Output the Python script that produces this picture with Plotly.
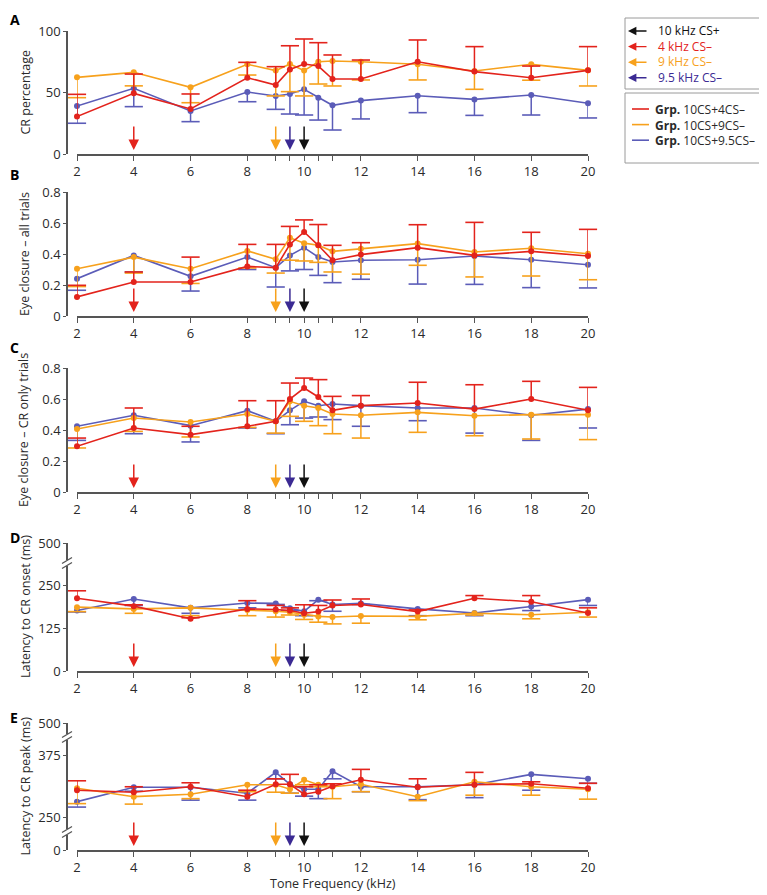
import plotly.graph_objects as go

# page has an 8px body margin: figure drawn at (8, 8) inside the 767x895 window
OFF = 8
W, H = 767 - OFF, 895 - OFF

# ---------------- data ----------------
freqs = [2, 4, 6, 8, 9, 9.5, 10, 10.5, 11, 12, 14, 16, 18, 20]
tick_text = ['2', '4', '6', '8', '', '', '10', '', '', '12', '14', '16', '18', '20']

# Panel A: CR percentage
a_red = [30.4, 49.3, 36.6, 62, 56.1, 68.8, 73.2, 71.5, 61, 61, 75, 67, 62, 68]
a_red_err_up = [18.1, 15.7, 12.2, 12.5, 14.9, 19.2, 20.3, 19, 19.5, 15.4, 17.7, 20.3, 9.5, 19.3]
a_orange = [62.3, 66.4, 54.2, 72.9, 67.8, 73.2, 67.8, 75, 75.6, 75, 73, 67.5, 72.9, 68]
a_orange_err_dn = [16.5, 11, 12.5, 8.7, 20.6, 22.5, 20.6, 18.1, 20.3, 14.8, 12.8, 14.9, 12.9, 12.7]
a_blue = [39, 53.4, 35, 50.4, 47.2, 48.8, 52.6, 45.8, 39.6, 43.4, 47.4, 44.4, 48, 41.2]
a_blue_err_dn = [14, 14.9, 8.7, 7.9, 10.9, 16.3, 20.9, 18.2, 20.1, 14.9, 13.8, 13, 16.3, 11.9]

# Panel B: eye closure - all trials
b_red = [0.123, 0.219, 0.219, 0.32, 0.312, 0.462, 0.542, 0.456, 0.36, 0.396, 0.441, 0.391, 0.417, 0.387]
b_red_err_up = [0.075, 0.065, 0.161, 0.142, 0.15, 0.116, 0.078, 0.134, 0.096, 0.077, 0.148, 0.213, 0.123, 0.172]
b_orange = [0.305, 0.38, 0.305, 0.42, 0.366, 0.505, 0.47, 0.456, 0.417, 0.434, 0.467, 0.413, 0.437, 0.402]
b_orange_err_dn = [0.115, 0.103, 0.095, 0.11, 0.089, 0.145, 0.115, 0.11, 0.133, 0.164, 0.14, 0.161, 0.179, 0.168]
b_blue = [0.241, 0.391, 0.256, 0.38, 0.312, 0.391, 0.441, 0.38, 0.348, 0.36, 0.363, 0.387, 0.363, 0.331]
b_blue_err_dn = [0.075, 0.107, 0.095, 0.08, 0.125, 0.10, 0.141, 0.118, 0.133, 0.123, 0.157, 0.183, 0.18, 0.15]

# Panel C: eye closure - CR only trials
c_red = [0.295, 0.413, 0.37, 0.424, 0.456, 0.6, 0.671, 0.613, 0.527, 0.557, 0.574, 0.535, 0.6, 0.527]
c_red_err_up = [0.053, 0.129, 0.054, 0.165, 0.133, 0.103, 0.064, 0.112, 0.09, 0.065, 0.134, 0.157, 0.114, 0.148]
c_orange = [0.406, 0.477, 0.452, 0.503, 0.456, 0.585, 0.557, 0.542, 0.503, 0.495, 0.514, 0.492, 0.499, 0.499]
c_orange_err_dn = [0.122, 0.086, 0.097, 0.086, 0.076, 0.097, 0.101, 0.114, 0.127, 0.147, 0.129, 0.129, 0.157, 0.161]
c_blue = [0.424, 0.495, 0.428, 0.525, 0.456, 0.527, 0.585, 0.557, 0.568, 0.557, 0.542, 0.542, 0.495, 0.535]
c_blue_err_dn = [0.091, 0.119, 0.105, 0.112, 0.08, 0.093, 0.108, 0.073, 0.101, 0.133, 0.082, 0.162, 0.162, 0.122]

# Panel D: latency to CR onset (ms)
d_red = [213, 190, 153, 182, 180, 177, 169, 174, 192, 195, 174, 213, 203, 170]
d_red_err_up = [22, 4, 3, 24, 12, 8, 25, 18, 16, 16, 5, 8, 18, 15]
d_orange = [187, 182, 185, 179, 175, 172, 165, 160, 158, 161, 160, 169, 165, 172]
d_orange_err_dn = [13, 13, 23, 17, 17, 8, 14, 17, 20, 21, 10, 5, 12, 14]
d_blue = [177, 211, 185, 199, 198, 184, 175, 209, 195, 198, 182, 170, 189, 209]
d_blue_err_dn = [4, 19, 16, 14, 3, 7, 13, 3, 20, 3, 20, 8, 12, 17]

# Panel E: latency to CR peak (ms)
e_red = [304, 300, 311, 291, 316, 316, 296, 301, 312, 325, 310, 315, 317, 308]
e_red_err_up = [19, 11, 8, 13, 11, 20, 15, 14, 5, 21, 17, 25, 4, 10]
e_orange = [308, 291, 296, 315, 315, 306, 325, 315, 311, 316, 291, 321, 311, 306]
e_orange_err_dn = [31, 15, 9, 14, 15, 8, 10, 4, 24, 15, 8, 27, 17, 20]
e_blue = [281, 310, 310, 298, 340, 316, 306, 306, 342, 311, 311, 315, 336, 327]
e_blue_err_dn = [11, 8, 26, 14, 13, 18, 14, 19, 15, 10, 26, 26, 32, 9]

# axis ticks (broken axes in D and E)
a_ticks, a_ticktext = [0, 50, 100], ['0', '50', '100']
bc_ticks, bc_ticktext = [0, 0.2, 0.4, 0.6, 0.8], ['0', '0.2', '0.4', '0.6', '0.8']
d_ticks, d_ticktext = [0, 125, 250, 375], ['0', '125', '250', '500']
e_ticks, e_ticktext = [183.5, 250, 375, 439.5], ['0', '250', '375', '500']

cs_freqs = [4, 9, 9.5, 10]
cs_labels = ['10 kHz CS+', '4 kHz CS–', '9 kHz CS–', '9.5 kHz CS–']
group_labels = ['10CS+4CS–', '10CS+9CS–', '10CS+9.5CS–']

# ---------------- style ----------------
RED = '#e3231c'
ORANGE = '#f7a11c'
BLUE = '#5b5cb8'
INDIGO = '#3b2a93'
BLACK = '#111111'
AXC = '#555555'
FONT = 'Open Sans'
TXT = '#2a2a2a'


def fx(px):  # window pixel x -> paper fraction
    return (px - OFF) / W


def fy(py):  # window pixel y -> paper fraction
    return 1 - (py - OFF) / H


panels = [
    dict(label='A', title='CR percentage', rng=[0, 100], ticks=a_ticks, tt=a_ticktext, top=31, bot=154,
         red=a_red, red_up=a_red_err_up, orange=a_orange, orange_dn=a_orange_err_dn, blue=a_blue, blue_dn=a_blue_err_dn,
         lab_y=None, ttl_x=25),
    dict(label='B', title='Eye closure – all trials', rng=[0, 0.8], ticks=bc_ticks, tt=bc_ticktext, top=192, bot=316,
         red=b_red, red_up=b_red_err_up, orange=b_orange, orange_dn=b_orange_err_dn, blue=b_blue, blue_dn=b_blue_err_dn,
         lab_y=174, ttl_x=25),
    dict(label='C', title='Eye closure – CR only trials', rng=[0, 0.8], ticks=bc_ticks, tt=bc_ticktext, top=368, bot=492,
         red=c_red, red_up=c_red_err_up, orange=c_orange, orange_dn=c_orange_err_dn, blue=c_blue, blue_dn=c_blue_err_dn,
         lab_y=347, ttl_x=23),
    dict(label='D', title='Latency to CR onset (ms)', rng=[0, 375], ticks=d_ticks, tt=d_ticktext, top=543, bot=671,
         red=d_red, red_up=d_red_err_up, orange=d_orange, orange_dn=d_orange_err_dn, blue=d_blue, blue_dn=d_blue_err_dn,
         lab_y=537, ttl_x=25),
    dict(label='E', title='Latency to CR peak (ms)', rng=[183.5, 439.5], ticks=e_ticks, tt=e_ticktext, top=723, bot=850,
         red=e_red, red_up=e_red_err_up, orange=e_orange, orange_dn=e_orange_err_dn, blue=e_blue, blue_dn=e_blue_err_dn,
         lab_y=717, ttl_x=25),
]

X0, X1, YAX = 77, 588, 67

fig = go.Figure()
layout = dict(
    width=W, height=H, margin=dict(l=0, r=0, t=0, b=0, autoexpand=False),
    paper_bgcolor='white', plot_bgcolor='rgba(0,0,0,0)', showlegend=False,
    font=dict(family=FONT, size=13, color=TXT),
)
annotations = []
shapes = []


def err_traces(x, y, err, sign, color, xa, ya):
    xs, ys, cx, cy = [], [], [], []
    for xi, yi, e in zip(x, y, err):
        if e and e > 0:
            end = yi + sign * e
            xs += [xi, xi, None]
            ys += [yi, end, None]
            cx.append(xi)
            cy.append(end)
    return [
        go.Scatter(x=xs, y=ys, mode='lines', line=dict(color=color, width=1.5), xaxis=xa, yaxis=ya,
                   hoverinfo='skip', cliponaxis=False),
        go.Scatter(x=cx, y=cy, mode='markers', xaxis=xa, yaxis=ya, hoverinfo='skip', cliponaxis=False,
                   marker=dict(symbol='line-ew', size=13, line=dict(color=color, width=1.6))),
    ]


for i, p in enumerate(panels):
    n = '' if i == 0 else str(i + 1)
    xa, ya = 'x' + n, 'y' + n
    ydom = [fy(p['bot']), fy(p['top'])]
    layout['xaxis' + n] = dict(
        domain=[fx(X0), fx(X1)], range=[2, 20], anchor=ya, tickmode='array', tickvals=freqs, ticktext=tick_text,
        ticks='outside', ticklen=5, tickwidth=1.3, tickcolor=AXC, showline=True, linecolor=AXC, linewidth=1.5,
        showgrid=False, zeroline=False, tickfont=dict(size=13, color=TXT, family=FONT), fixedrange=True,
    )
    layout['yaxis' + n] = dict(
        domain=ydom, range=p['rng'], anchor='free', position=fx(YAX), tickmode='array', tickvals=p['ticks'],
        ticktext=p['tt'], ticks='outside', ticklen=3, tickwidth=1.3, tickcolor=AXC, showline=True, linecolor=AXC,
        linewidth=1.5, showgrid=False, zeroline=False, tickfont=dict(size=13, color=TXT, family=FONT), fixedrange=True,
    )
    # series: blue, orange, red
    for vals, err, sign, col in [(p['blue'], p['blue_dn'], -1, BLUE), (p['orange'], p['orange_dn'], -1, ORANGE),
                                 (p['red'], p['red_up'], 1, RED)]:
        for t in err_traces(freqs, vals, err, sign, col, xa, ya):
            fig.add_trace(t)
        fig.add_trace(go.Scatter(x=freqs, y=vals, mode='lines+markers', xaxis=xa, yaxis=ya, cliponaxis=False,
                                 line=dict(color=col, width=1.6), marker=dict(color=col, size=6)))
    # CS arrows
    for f, c in zip(cs_freqs, [RED, ORANGE, INDIGO, BLACK]):
        annotations.append(dict(x=f, y=p['rng'][0], xref=xa, yref=ya, ax=0, ay=-29, axref='pixel', ayref='pixel',
                                text='', showarrow=True, arrowhead=2, arrowsize=1.4, arrowwidth=1.5, arrowcolor=c,
                                standoff=4))
    # panel letter
    if p['lab_y'] is None:
        annotations.append(dict(x=0, y=1, xref='paper', yref='paper', text='<b>' + p['label'] + '</b>',
                                showarrow=False, xanchor='left', yanchor='top',
                                font=dict(size=14, color='black', family=FONT)))
    else:
        annotations.append(dict(x=0, y=fy(p['lab_y']), xref='paper', yref='paper', text='<b>' + p['label'] + '</b>',
                                showarrow=False, xanchor='left', yanchor='middle',
                                font=dict(size=14, color='black', family=FONT)))
    # y title
    annotations.append(dict(x=fx(p['ttl_x']), y=(ydom[0] + ydom[1]) / 2, xref='paper', yref='paper', text=p['title'],
                            textangle=-90, showarrow=False, xanchor='center', yanchor='middle',
                            font=dict(size=12.5, color=TXT, family=FONT)))

# x title
annotations.append(dict(x=fx((X0 + X1) / 2), y=fy(883), xref='paper', yref='paper', text='Tone Frequency (kHz)',
                        showarrow=False, xanchor='center', yanchor='middle', font=dict(size=12.5, color=TXT, family=FONT)))

# axis break marks
for yb in [563, 737, 832]:
    shapes.append(dict(type='rect', xref='paper', yref='paper', x0=fx(YAX - 2), x1=fx(YAX + 2),
                       y0=fy(yb + 3), y1=fy(yb - 3), fillcolor='white', line=dict(width=0)))
    for dy in (-2.5, 2.5):
        shapes.append(dict(type='line', xref='paper', yref='paper', x0=fx(YAX - 5), x1=fx(YAX + 5),
                           y0=fy(yb + dy + 3), y1=fy(yb + dy - 3), line=dict(color=AXC, width=1.3)))

# legend boxes
shapes.append(dict(type='rect', xref='paper', yref='paper', x0=fx(625), x1=fx(764), y0=fy(89), y1=fy(18),
                   line=dict(color='#9a9a9a', width=1), fillcolor='white'))
shapes.append(dict(type='rect', xref='paper', yref='paper', x0=fx(625), x1=fx(764), y0=fy(163), y1=fy(93),
                   line=dict(color='#9a9a9a', width=1), fillcolor='white'))
leg_cols = [BLACK, RED, ORANGE, INDIGO]
LEG_STEP = 15.6
for k, c in enumerate(leg_cols):
    annotations.append(dict(x=fx(628), y=fy(31 + k * LEG_STEP), xref='paper', yref='paper', ax=20, ay=0,
                            axref='pixel', ayref='pixel', text='', showarrow=True, arrowhead=2, arrowsize=1.2,
                            arrowwidth=1.4, arrowcolor=c))
cs_text = '<br>'.join('<span style="color:%s">%s</span>' % (c, lab) for lab, c in zip(cs_labels, leg_cols))
annotations.append(dict(x=fx(656), y=fy(31 + 1.5 * LEG_STEP), xref='paper', yref='paper', text=cs_text,
                        showarrow=False, xanchor='left', yanchor='middle', align='left',
                        font=dict(size=12, color=TXT, family=FONT)))
GRP_STEP = 15.6
for k, c in enumerate([RED, ORANGE, BLUE]):
    yy = fy(109 + k * GRP_STEP)
    shapes.append(dict(type='line', xref='paper', yref='paper', x0=fx(632), x1=fx(649), y0=yy, y1=yy,
                       line=dict(color=c, width=1.6)))
grp_text = '<br>'.join('<b>Grp.</b> ' + lab for lab in group_labels)
annotations.append(dict(x=fx(653), y=fy(109 + GRP_STEP), xref='paper', yref='paper', text=grp_text,
                        showarrow=False, xanchor='left', yanchor='middle', align='left',
                        font=dict(size=12, color=TXT, family=FONT)))

layout['annotations'] = annotations
layout['shapes'] = shapes
fig.update_layout(**layout)
fig.write_html('out.html')
